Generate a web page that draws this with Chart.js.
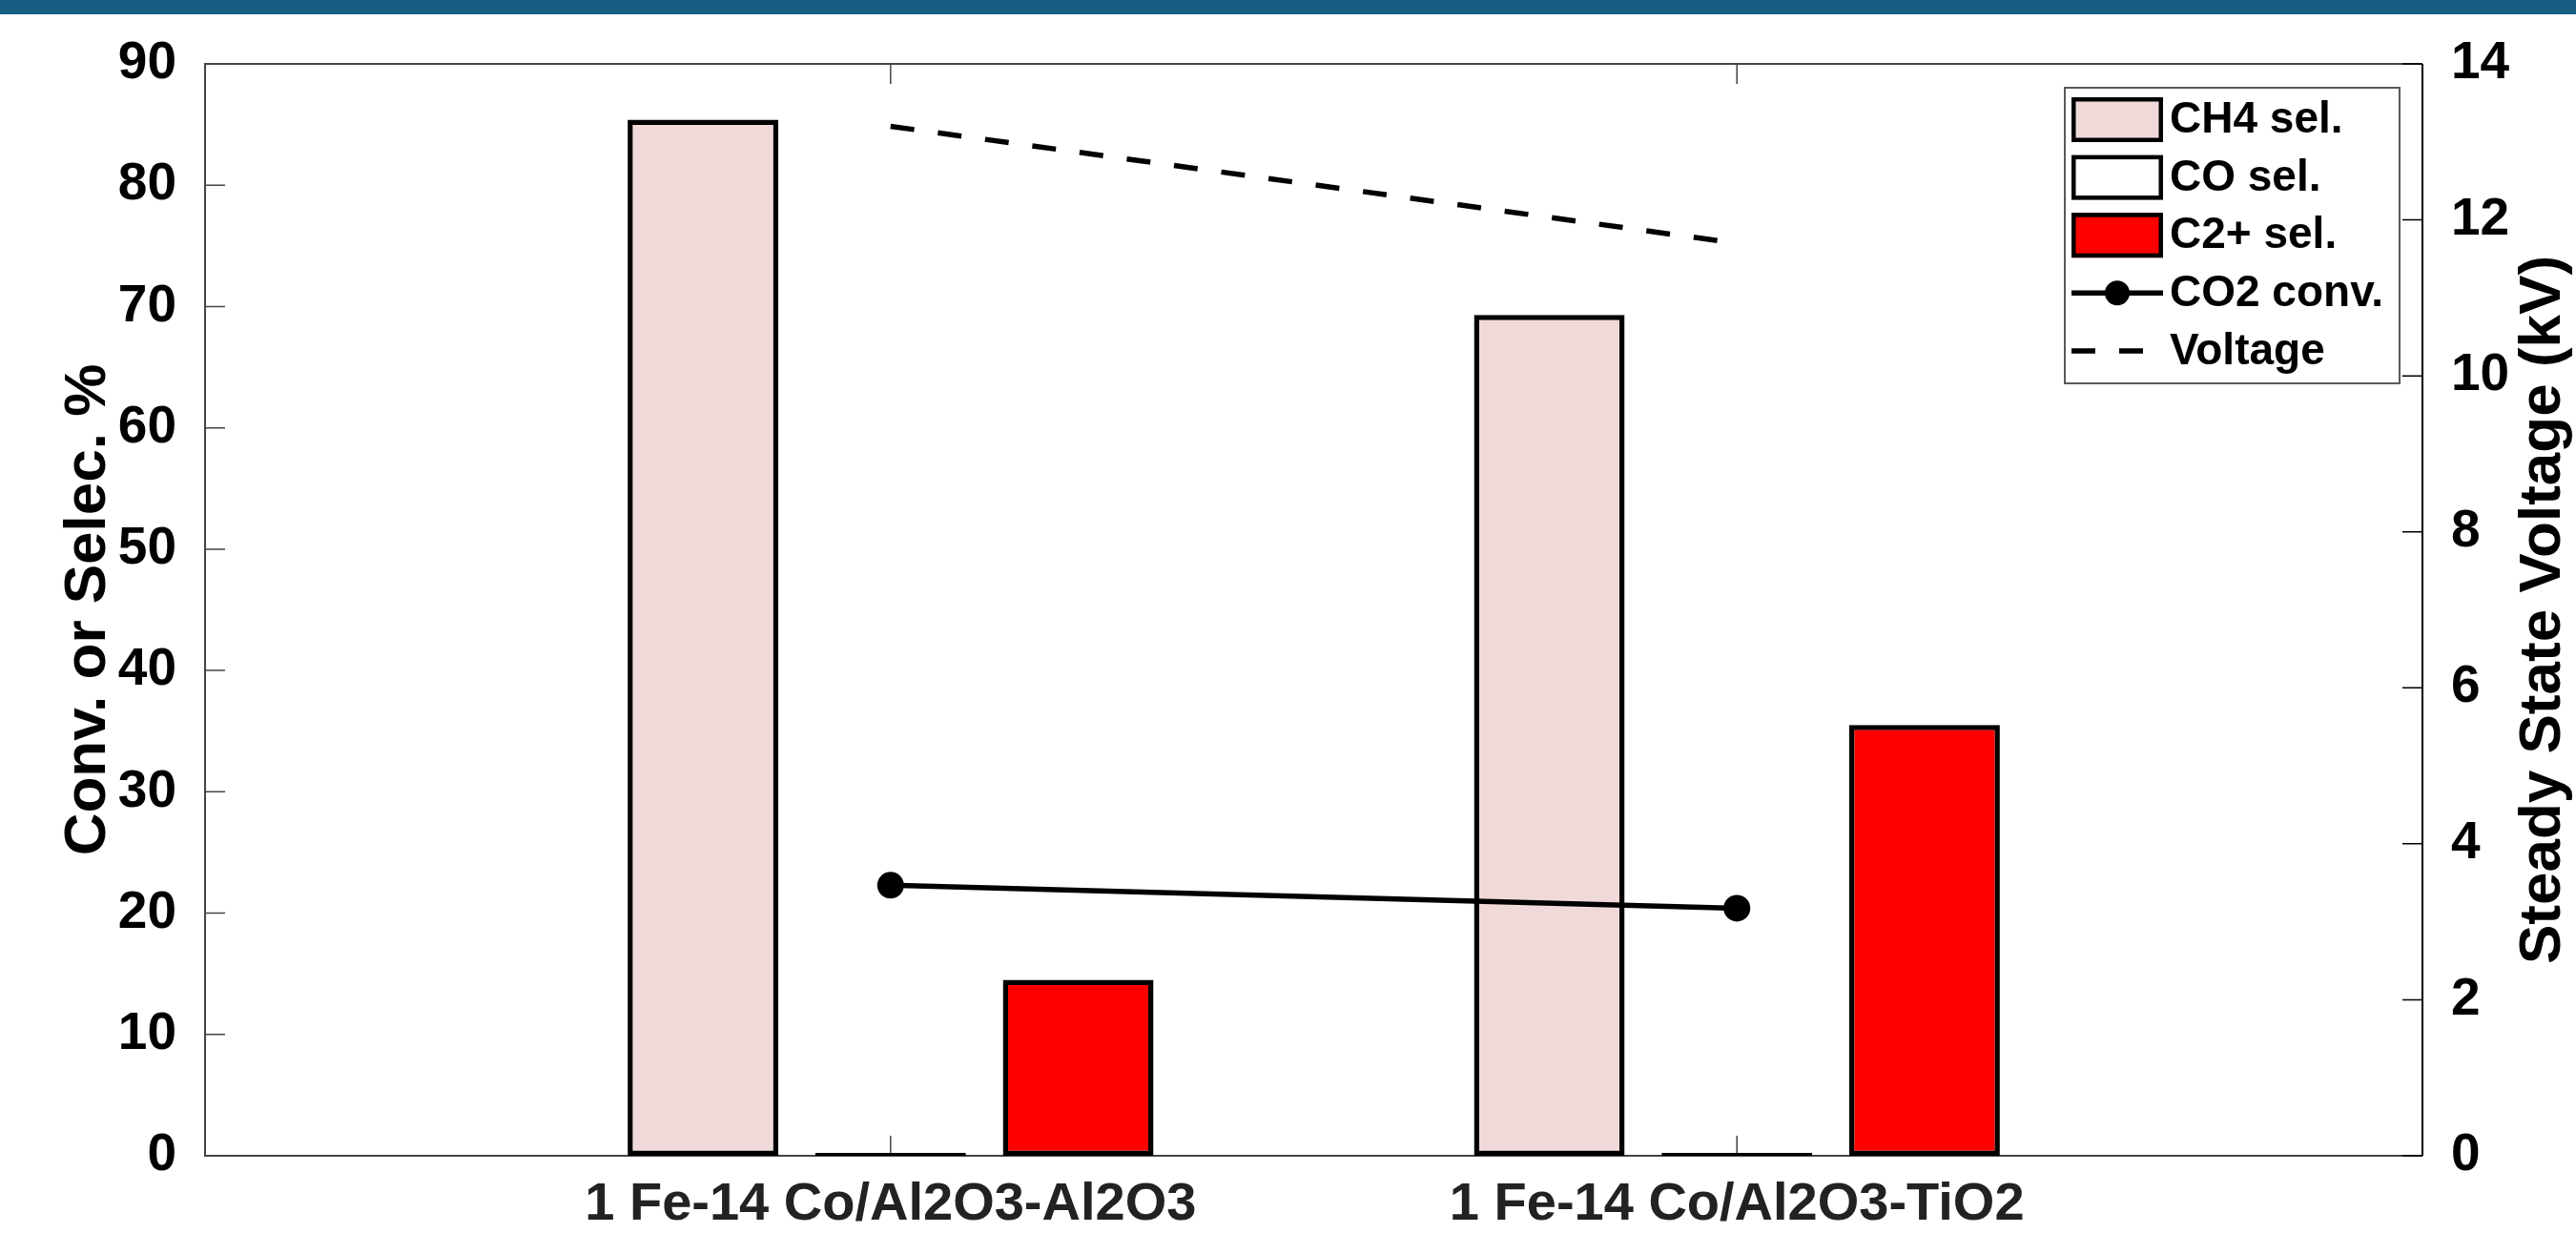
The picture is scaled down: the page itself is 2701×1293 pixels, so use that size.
<!DOCTYPE html>
<html>
<head>
<meta charset="utf-8">
<title>Selectivity and conversion</title>
<script src="https://cdn.jsdelivr.net/npm/chart.js@4.4.1/dist/chart.umd.min.js"></script>
<style>
  html, body { margin: 0; padding: 0; background: #fff; }
  #wrap { position: relative; width: 2701px; height: 1293px; overflow: hidden; }
  #band { position: absolute; left: 0; top: 0; width: 2701px; height: 15px; background: #165e83; }
  #chartSel { position: absolute; left: 0; top: 0; }
</style>
</head>
<body>
<div id="wrap">
  <canvas id="chartSel" width="2701" height="1293"></canvas>
  <div id="band"></div>
</div>
<script>
// catalysts on the x axis
const categories = ['1 Fe-14 Co/Al2O3-Al2O3', '1 Fe-14 Co/Al2O3-TiO2'];

// selectivities and conversion (%), left axis
const ch4Sel = [85.4, 69.3];
const coSel = [0, 0];
const c2Sel = [14.5, 35.5];
const co2Conv = [22.3, 20.4];

// steady state voltage (kV), right axis
const voltage = [13.2, 11.7];

const selTicks = [0, 10, 20, 30, 40, 50, 60, 70, 80, 90];
const voltTicks = [0, 2, 4, 6, 8, 10, 12, 14];

const pts = arr => arr.map((v, i) => ({ x: i + 1, y: v }));

Chart.defaults.font.family = '"Liberation Sans", Arial, sans-serif';
Chart.defaults.font.weight = 'bold';
Chart.defaults.color = '#000';

// box, inward ticks, axis titles and legend, MATLAB style
const frame = {
    id: 'frame',
    beforeDatasetsDraw(chart) {
        const { ctx, chartArea: a, scales } = chart;
        const tl = 21;
        ctx.save();
        ctx.lineWidth = 2;
        ctx.strokeStyle = '#444';
        ctx.beginPath();
        ctx.moveTo(a.right, a.top); ctx.lineTo(a.left, a.top);
        ctx.lineTo(a.left, a.bottom); ctx.lineTo(a.right, a.bottom);
        ctx.stroke();

        ctx.lineWidth = 1.5;
        ctx.beginPath();
        selTicks.forEach(v => {
            const y = scales.y.getPixelForValue(v);
            ctx.moveTo(a.left, y); ctx.lineTo(a.left + tl, y);
        });
        scales.x.ticks.forEach(t => {
            const x = scales.x.getPixelForValue(t.value);
            ctx.moveTo(x, a.bottom); ctx.lineTo(x, a.bottom - tl);
            ctx.moveTo(x, a.top); ctx.lineTo(x, a.top + tl);
        });
        ctx.stroke();

        ctx.strokeStyle = '#000';
        ctx.beginPath();
        voltTicks.forEach(v => {
            const y = scales.y1.getPixelForValue(v);
            ctx.moveTo(a.right, y); ctx.lineTo(a.right - tl, y);
        });
        ctx.stroke();
        ctx.lineWidth = 2;
        ctx.beginPath();
        ctx.moveTo(a.right, a.top); ctx.lineTo(a.right, a.bottom);
        ctx.stroke();
        ctx.restore();
    },
    afterDraw(chart) {
        const { ctx, chartArea: a } = chart;
        const midY = (a.top + a.bottom) / 2;
        ctx.save();
        ctx.fillStyle = '#000';
        ctx.font = 'bold 62px "Liberation Sans", Arial, sans-serif';
        ctx.textAlign = 'center';
        ctx.textBaseline = 'alphabetic';

        ctx.save();
        ctx.translate(110, midY);
        ctx.rotate(-Math.PI / 2);
        ctx.fillText('Conv. or Selec. %', 0, 0);
        ctx.restore();

        ctx.save();
        ctx.translate(2684, midY);
        ctx.rotate(-Math.PI / 2);
        ctx.fillText('Steady State Voltage (kV)', 0, 0);
        ctx.restore();

        // legend
        const box = { left: a.right - 375, top: a.top + 25, right: a.right - 24, bottom: a.top + 335 };
        ctx.fillStyle = '#fff';
        ctx.fillRect(box.left, box.top, box.right - box.left, box.bottom - box.top);
        ctx.strokeStyle = '#5a5a5a';
        ctx.lineWidth = 2;
        ctx.strokeRect(box.left, box.top, box.right - box.left, box.bottom - box.top);

        const x0 = box.left + 7, sw = 96, sh = 47;
        ctx.font = 'bold 46px "Liberation Sans", Arial, sans-serif';
        ctx.textAlign = 'left';
        ctx.textBaseline = 'middle';
        chart.data.datasets.forEach((ds, i) => {
            const yc = box.top + 33.5 + i * 60.6;
            if ((ds.type || 'bar') === 'bar') {
                ctx.fillStyle = ds.backgroundColor;
                ctx.fillRect(x0, yc - sh / 2, sw, sh);
                ctx.strokeStyle = '#000';
                ctx.lineWidth = 4.5;
                ctx.strokeRect(x0 + 2.25, yc - sh / 2 + 2.25, sw - 4.5, sh - 4.5);
            } else {
                ctx.strokeStyle = ds.borderColor;
                ctx.lineWidth = ds.borderWidth;
                ctx.setLineDash(ds.borderDash || []);
                ctx.beginPath();
                ctx.moveTo(x0, yc); ctx.lineTo(x0 + sw, yc);
                ctx.stroke();
                ctx.setLineDash([]);
                if (ds.pointRadius > 0) {
                    ctx.fillStyle = ds.pointBackgroundColor;
                    ctx.beginPath();
                    ctx.arc(x0 + sw / 2, yc, 13, 0, Math.PI * 2);
                    ctx.fill();
                }
            }
            ctx.fillStyle = '#000';
            ctx.fillText(ds.label, x0 + 103, yc + 1);
        });
        ctx.restore();
    }
};

new Chart(document.getElementById('chartSel'), {
    type: 'bar',
    data: {
        datasets: [
            { label: 'CH4 sel.', data: pts(ch4Sel), backgroundColor: '#f0d9d9', borderColor: '#000',
              borderWidth: 5.5, borderSkipped: false, yAxisID: 'y', order: 2 },
            { label: 'CO sel.', data: pts(coSel), backgroundColor: '#fff', borderColor: '#000',
              borderWidth: 2, borderSkipped: false, minBarLength: 3, yAxisID: 'y', order: 2 },
            { label: 'C2+ sel.', data: pts(c2Sel), backgroundColor: '#ff0000', borderColor: '#000',
              borderWidth: 5.5, borderSkipped: false, yAxisID: 'y', order: 2 },
            { type: 'line', label: 'CO2 conv.', data: pts(co2Conv), borderColor: '#000', borderWidth: 5.5,
              pointRadius: 14, pointBorderWidth: 0, pointBackgroundColor: '#000', yAxisID: 'y', order: 1 },
            { type: 'line', label: 'Voltage', data: pts(voltage), borderColor: '#000', borderWidth: 5.5,
              borderDash: [25, 25], pointRadius: 0, yAxisID: 'y1', order: 1 }
        ]
    },
    options: {
        responsive: false,
        animation: false,
        events: [],
        layout: { padding: { top: 67, left: 0, right: 0, bottom: 0 } },
        plugins: { legend: { display: false }, tooltip: { enabled: false } },
        datasets: { bar: { categoryPercentage: 0.665, barPercentage: 0.803 } },
        scales: {
            x: {
                type: 'linear', min: 0.19, max: 2.81, offset: false,
                grid: { display: false }, border: { display: false },
                afterBuildTicks: s => { s.ticks = categories.map((c, i) => ({ value: i + 1 })); },
                ticks: { callback: (v, i) => categories[i], font: { size: 56 }, color: '#222',
                         padding: 10, autoSkip: false, maxRotation: 0, minRotation: 0 },
                afterFit: s => { s.height = 81; s.paddingLeft = 0; s.paddingRight = 0; }
            },
            y: {
                position: 'left', min: 0, max: 90,
                grid: { display: false }, border: { display: false },
                afterBuildTicks: s => { s.ticks = selTicks.map(v => ({ value: v })); },
                ticks: { font: { size: 55 }, padding: 22 },
                afterFit: s => { s.width = 215; }
            },
            y1: {
                position: 'right', min: 0, max: 14,
                grid: { display: false }, border: { display: false },
                afterBuildTicks: s => { s.ticks = voltTicks.map(v => ({ value: v })); },
                ticks: { font: { size: 55 }, padding: 22 },
                afterFit: s => { s.width = 161; }
            }
        }
    },
    plugins: [frame]
});
</script>
</body>
</html>
